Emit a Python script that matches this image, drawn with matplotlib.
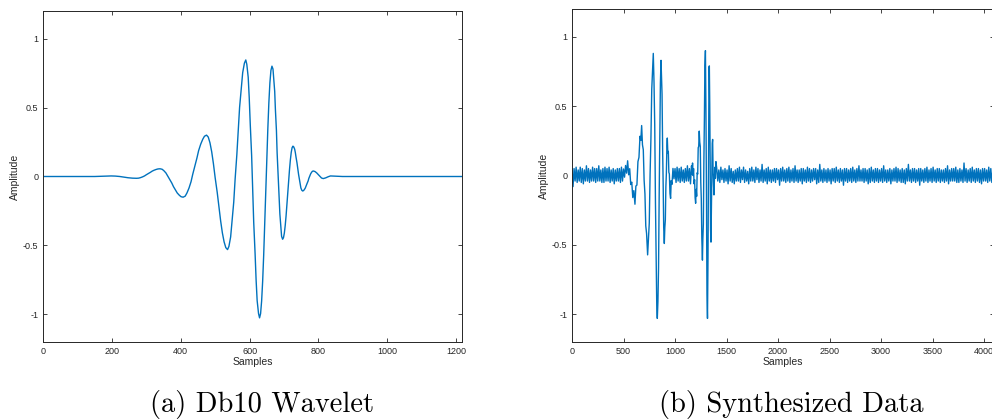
import numpy as np
import matplotlib
matplotlib.use("Agg")
import matplotlib.pyplot as plt

# ---------------- data ----------------
# (a) Db10 wavelet (coarse + extra readings, sorted below)
wav_x = [0, 100, 150, 198, 210, 223, 235, 247, 260, 272, 283, 295, 306, 317, 329,
         340, 351, 362, 374, 385, 396, 407, 418, 430, 441, 452, 464, 475, 485, 495,
         506, 516, 526, 536, 545, 554, 563, 571, 580, 589, 596, 602, 609, 616, 622,
         629, 635, 641, 647, 653, 659, 665, 670, 675, 680, 686, 691, 696, 701, 706,
         711, 716, 721, 726, 731, 735, 740, 745, 749, 754, 759, 764, 770, 775, 780,
         785, 790, 795, 800, 805, 809, 814, 821, 828, 835, 850, 870, 1217,
         278, 289, 300, 312, 323, 334,
         346, 357, 368, 379, 390, 401,
         413, 424, 435, 447, 458, 469,
         480, 490, 500, 511, 521, 531,
         540, 549, 558, 567, 576, 585,
         592, 599, 606, 612, 619, 626,
         632, 638, 644, 650, 656, 662,
         668, 673, 678, 683, 688, 693,
         698.5, 703.5, 708.5, 713.5, 718.5, 723.5,
         728.3, 733, 737.7, 742.3, 747, 751.7,
         756.6, 761.8, 766.9, 772.1, 777.3, 782.4]
wav_y = [0.0, 0.0, 0.0, 0.004, 0.003, 0.0, -0.0045, -0.009, -0.012, -0.013, -0.0084, 0.0043, 0.0215, 0.0388, 0.0514,
         0.056, 0.0422, 0.0045, -0.047, -0.0985, -0.136, -0.15, -0.12, -0.0375, 0.075, 0.1875, 0.27, 0.30, 0.244, 0.0925,
         -0.115, -0.3225, -0.474, -0.53, -0.438, -0.186, 0.1575, 0.501, 0.753, 0.845, 0.72, 0.3775, -0.09, -0.5575, -0.90,
         -1.025, -0.903, -0.569, -0.1125, 0.344, 0.678, 0.80, 0.716, 0.486, 0.1725, -0.141, -0.371, -0.455, -0.41, -0.286,
         -0.1175, 0.051, 0.175, 0.22, 0.198, 0.139, 0.0575, -0.024, -0.083, -0.105, -0.095, -0.069, -0.0325, 0.004, 0.030,
         0.04, 0.036, 0.026, 0.0125, -0.001, -0.011, -0.015, -0.010, -0.002, 0.004, 0.002, 0.0, 0.0,
         -0.0118, -0.0029, 0.0126, 0.0304, 0.0459, 0.0548,
         0.0525, 0.0259, -0.0204, -0.0736, -0.1199, -0.1465,
         -0.1424, -0.0843, 0.017, 0.133, 0.234, 0.292,
         0.286, 0.179, -0.008, -0.222, -0.409, -0.516,
         -0.507, -0.329, -0.020, 0.335, 0.644, 0.822,
         0.813, 0.572, 0.151, -0.331, -0.752, -0.993,
         -0.994, -0.759, -0.348, 0.123, 0.534, 0.769,
         0.779, 0.617, 0.334, 0.011, -0.272, -0.434,
         -0.4435, -0.356, -0.205, -0.030, 0.121, 0.209,
         0.2145, 0.1725, 0.0994, 0.0156, -0.0576, -0.0995,
         -0.1025, -0.0838, -0.0512, -0.0138, 0.0188, 0.0375]

# (b) Synthesized data
pre_x = np.arange(0, 500, 10)
pre_y = [0.05, -0.08, 0.05, -0.04, 0.06, -0.05, 0.04, -0.04, 0.06, -0.05,
         0.05, -0.06, 0.04, -0.04, 0.07, -0.04, 0.05, -0.05, 0.04, -0.04,
         0.06, -0.04, 0.05, -0.05, 0.05, -0.04, 0.07, -0.04, 0.04, -0.05,
         0.05, -0.05, 0.06, -0.04, 0.05, -0.04, 0.06, -0.05, 0.04, -0.04,
         0.05, -0.06, 0.04, -0.04, 0.05, -0.04, 0.05, -0.05, 0.06, -0.04]

ev1_x = [500, 510, 520, 530, 540, 550, 560, 570, 580, 590, 600, 611, 620, 630, 640,
         650, 660, 668, 676, 684, 692, 700, 708, 716, 724, 734, 742, 750, 758, 766,
         774, 782, 789, 796, 803, 810, 817, 823, 828, 834, 840, 846, 852, 858, 864,
         869, 874, 880, 885, 890, 896, 901, 906, 911, 916, 921, 925, 930, 935, 940,
         945, 951, 957, 963, 970, 980, 990]
ev1_y = [0.047, -0.012, 0.072, 0.017, 0.106, 0.005, 0.049, -0.065, -0.048, -0.159, -0.109, -0.207, -0.076, -0.069, 0.10,
         0.131, 0.283, 0.253, 0.36, 0.221, 0.186, -0.034, -0.133, -0.363, -0.419, -0.572, -0.452, -0.342, 0.011, 0.264,
         0.62, 0.756, 0.88, 0.672, 0.364, -0.193, -0.61, -0.954, -1.03, -0.909, -0.666, -0.158, 0.238, 0.666, 0.83,
         0.715, 0.587, 0.169, -0.067, -0.373, -0.49, -0.375, -0.321, -0.083, 0.016, 0.21, 0.27, 0.164, 0.174, 0.023,
         0.011, -0.13, -0.165, -0.037, -0.064, 0.051, -0.024]

mid_x = np.arange(1000, 1160, 10)
mid_y = [0.05, -0.05, 0.06, -0.04, 0.05, -0.05, 0.06, -0.04, 0.04, -0.05, 0.05, -0.04, 0.07, -0.04, 0.05, -0.06]

ev2_x = [1160, 1165, 1170, 1175, 1180, 1185, 1190, 1195, 1200, 1205, 1210, 1215, 1220, 1225, 1230,
         1235, 1240, 1245, 1250, 1255, 1260, 1266, 1270, 1275, 1280, 1285, 1290, 1295, 1300, 1305,
         1310, 1315, 1320, 1325, 1330, 1333, 1337, 1341, 1345, 1349, 1353, 1357, 1361, 1365, 1369,
         1373, 1378, 1383, 1388, 1392, 1397]
ev2_y = [0.07, 0.01, 0.09, 0.00, 0.05, -0.06, -0.03, -0.16, -0.20, -0.10, -0.15, 0.02, 0.01, 0.20, 0.21,
         0.32, 0.24, 0.21, -0.05, -0.17, -0.45, -0.61, -0.46, -0.35, 0.10, 0.41, 0.79, 0.90, 0.48, -0.12,
         -0.85, -1.03, -0.60, 0.08, 0.78, 0.79, 0.51, 0.12, -0.39, -0.48, -0.25, -0.05, 0.23, 0.26, 0.05,
         -0.05, -0.14, -0.01, 0.06, -0.02, 0.10]

post_x = np.arange(1405, 4096, 10)
post_y = [
    0.05, -0.04, 0.04, -0.05, 0.06, -0.03, 0.04, -0.05, 0.05, -0.04,
    0.04, -0.06, 0.07, -0.04, 0.05, -0.05, 0.03, -0.06, 0.04, -0.04,
    0.05, -0.04, 0.06, -0.05, 0.04, -0.03, 0.06, -0.05, 0.04, -0.04,
    0.03, -0.06, 0.05, -0.04, 0.06, -0.04, 0.04, -0.05, 0.06, -0.03,
    0.05, -0.05, 0.04, -0.04, 0.08, -0.05, 0.04, -0.04, 0.05, -0.06,
    0.06, -0.04, 0.04, -0.05, 0.04, -0.04, 0.05, -0.05, 0.05, -0.03,
    0.04, -0.07, 0.05, -0.04, 0.06, -0.04, 0.04, -0.05, 0.05, -0.04,
    0.06, -0.05, 0.04, -0.04, 0.05, -0.05, 0.07, -0.04, 0.04, -0.05,
    0.04, -0.04, 0.05, -0.06, 0.05, -0.04, 0.04, -0.05, 0.06, -0.04,
    0.05, -0.05, 0.04, -0.04, 0.05, -0.03, 0.05, -0.06, 0.04, -0.05,
    0.08, -0.04, 0.04, -0.05, 0.05, -0.04, 0.04, -0.05, 0.05, -0.04,
    0.04, -0.06, 0.05, -0.04, 0.05, -0.05, 0.06, -0.04, 0.04, -0.05,
    0.05, -0.04, 0.04, -0.07, 0.05, -0.04, 0.05, -0.05, 0.04, -0.04,
    0.05, -0.05, 0.06, -0.04, 0.04, -0.05, 0.05, -0.04, 0.07, -0.04,
    0.04, -0.04, 0.05, -0.05, 0.05, -0.04, 0.04, -0.06, 0.05, -0.05,
    0.06, -0.04, 0.04, -0.05, 0.05, -0.04, 0.05, -0.05, 0.04, -0.04,
    0.05, -0.05, 0.07, -0.04, 0.04, -0.05, 0.04, -0.04, 0.05, -0.06,
    0.04, -0.04, 0.05, -0.04, 0.06, -0.05, 0.05, -0.04, 0.04, -0.05,
    0.05, -0.05, 0.04, -0.06, 0.05, -0.04, 0.08, -0.04, 0.04, -0.05,
    0.05, -0.04, 0.05, -0.05, 0.04, -0.04, 0.05, -0.07, 0.05, -0.04,
    0.04, -0.05, 0.05, -0.04, 0.06, -0.05, 0.04, -0.04, 0.05, -0.05,
    0.06, -0.04, 0.04, -0.05, 0.05, -0.04, 0.05, -0.05, 0.04, -0.04,
    0.04, -0.05, 0.05, -0.04, 0.07, -0.06, 0.04, -0.04, 0.05, -0.04,
    0.05, -0.04, 0.06, -0.05, 0.04, -0.05, 0.05, -0.04, 0.04, -0.05,
    0.09, -0.04, 0.05, -0.05, 0.04, -0.04, 0.05, -0.05, 0.06, -0.04,
    0.04, -0.05, 0.05, -0.04, 0.05, -0.05, 0.04, -0.06, 0.05, -0.04,
    0.05, -0.04, 0.04, -0.05, 0.06, -0.04, 0.05, -0.05, 0.04, -0.05]

y_ticks = [-1, -0.5, 0, 0.5, 1]
y_tick_labels = ["-1", "-0.5", "0", "0.5", "1"]
wav_xticks = [0, 200, 400, 600, 800, 1000, 1200]
syn_xticks = [0, 500, 1000, 1500, 2000, 2500, 3000, 3500, 4000]
captions = ["(a) Db10 Wavelet", "(b) Synthesized Data"]

# ---------------- figure ----------------
W, H = 992, 419
fig = plt.figure(figsize=(W / 100, H / 100), dpi=100)
line_color = "#0072BD"
axis_color = "#262626"
tick_font = "Liberation Sans"


def px_axes(l, t, r, b):
    return fig.add_axes([l / W, 1 - b / H, (r - l) / W, (b - t) / H])


ax1 = px_axes(43, 11, 462, 342)
ax2 = px_axes(572, 9, 994, 342)

order = np.argsort(wav_x)
wx = np.asarray(wav_x, dtype=float)[order]
wy = np.asarray(wav_y, dtype=float)[order]

syn_x = np.concatenate([pre_x, ev1_x, mid_x, ev2_x, post_x])
syn_y = np.concatenate([pre_y, ev1_y, mid_y, ev2_y, post_y])

ax1.plot(wx, wy, color=line_color, lw=1.0)
ax2.plot(syn_x, syn_y, color=line_color, lw=1.0)

ax1.set_xlim(0, 1217)
ax2.set_xlim(0, 4096)
ax1.set_xticks(wav_xticks)
ax2.set_xticks(syn_xticks)

for ax in (ax1, ax2):
    ax.set_ylim(-1.2, 1.2)
    ax.set_yticks(y_ticks)
    ax.set_yticklabels(y_tick_labels)
    ax.tick_params(direction="in", top=True, right=True, length=3, width=0.6,
                   colors=axis_color, labelsize=6.5, pad=3.5)
    for lab in ax.get_xticklabels() + ax.get_yticklabels():
        lab.set_fontfamily(tick_font)
    for sp in ax.spines.values():
        sp.set_color(axis_color)
        sp.set_linewidth(0.7)
    ax.set_xlabel("Samples", fontsize=7.5, family=tick_font, color=axis_color, labelpad=1)
    ax.set_ylabel("Amplitude", fontsize=7.5, family=tick_font, color=axis_color, labelpad=2)

fig.text(262 / W, 1 - 404 / H, captions[0], ha="center", va="center",
         fontsize=20.5, family=["cmr10", "DejaVu Serif"])
fig.text(791 / W, 1 - 404 / H, captions[1], ha="center", va="center",
         fontsize=20.5, family=["cmr10", "DejaVu Serif"])

fig.savefig("out.png", dpi=100)
